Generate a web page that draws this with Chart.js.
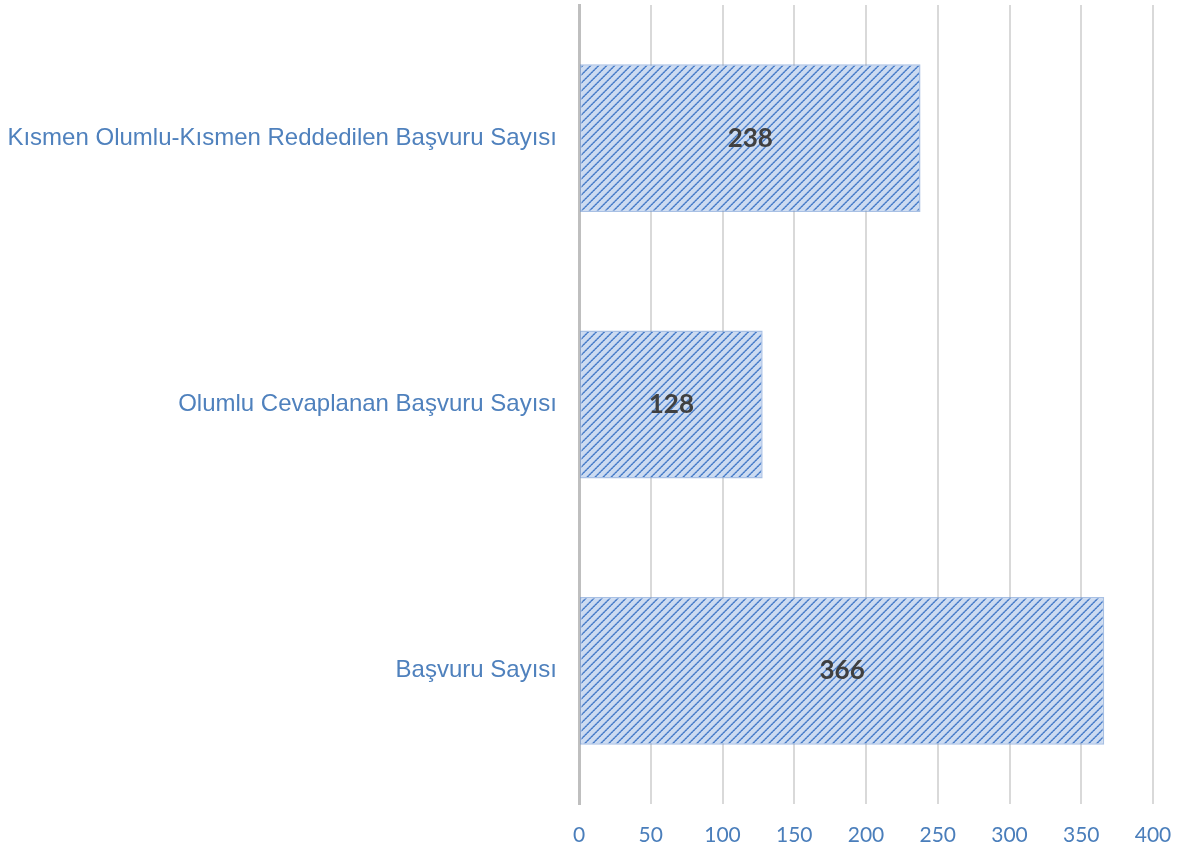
<!DOCTYPE html>
<html>
<head>
<meta charset="utf-8">
<script src="https://cdn.jsdelivr.net/npm/chart.js@4"></script>
<style>
  html, body { margin: 0; padding: 0; background: #fff; }
  #wrap { width: 1179px; height: 847px; }
</style>
</head>
<body>
<div id="wrap"><canvas id="c" width="1179" height="847"></canvas></div>
<script>
// kategoriler ve değerler
const categories = [
    'Kısmen Olumlu-Kısmen Reddedilen Başvuru Sayısı',
    'Olumlu Cevaplanan Başvuru Sayısı',
    'Başvuru Sayısı'
];
const values = [238, 128, 366];
const xTicks = [0, 50, 100, 150, 200, 250, 300, 350, 400];

// çapraz taralı dolgu deseni
function makePattern() {
    const n = 8;
    const pc = document.createElement('canvas');
    pc.width = n; pc.height = n;
    const g = pc.getContext('2d');
    g.fillStyle = '#ccdbf1';
    g.fillRect(0, 0, n, n);
    for (let i = 0; i < n; i++) {
        g.fillStyle = i % 2 ? '#4478c4' : '#5a8bd0';
        g.fillRect(i, n - 1 - i, 1, 1);
        g.fillStyle = i % 2 ? '#7aa1da' : '#5f8ed0';
        g.fillRect(i, (2 * n - i) % n, 1, 1);
        g.fillStyle = '#a6c0e7';
        g.fillRect(i, (2 * n - 2 - i) % n, 1, 1);
    }
    return g.createPattern(pc, 'repeat');
}

// çubuk ortasına değer yazısı
const valueLabels = {
    id: 'valueLabels',
    afterDatasetsDraw(chart) {
        const ctx = chart.ctx;
        const meta = chart.getDatasetMeta(0);
        ctx.save();
        ctx.font = 'bold 26px Lato';
        ctx.fillStyle = '#404040';
        ctx.textAlign = 'center';
        ctx.textBaseline = 'middle';
        meta.data.forEach((bar, i) => {
            const cx = (bar.x + bar.base) / 2;
            ctx.fillText(String(values[i]), cx, bar.y);
        });
        ctx.restore();
    }
};

function noPad(scale) {
    scale.paddingTop = 0;
    scale.paddingBottom = 0;
    scale.paddingLeft = 0;
    scale.paddingRight = 0;
}

new Chart(document.getElementById('c'), {
    type: 'bar',
    data: {
        labels: categories,
        datasets: [{
            data: values,
            backgroundColor: makePattern(),
            borderColor: 'rgba(110,150,210,0.6)',
            borderWidth: 1.5,
            borderSkipped: false,
            categoryPercentage: 1,
            barPercentage: 0.555
        }]
    },
    options: {
        indexAxis: 'y',
        responsive: false,
        animation: false,
        layout: { padding: { top: 5, right: 26, left: 0, bottom: 0 } },
        plugins: {
            legend: { display: false },
            tooltip: { enabled: false }
        },
        scales: {
            x: {
                min: 0,
                max: 400,
                afterBuildTicks(scale) {
                    scale.ticks = xTicks.map(v => ({ value: v }));
                },
                afterFit(scale) { scale.height = 43; noPad(scale); },
                grid: { color: '#d9d9d9', lineWidth: 2, drawTicks: false },
                border: { display: false },
                ticks: {
                    color: '#4a7ebb',
                    font: { family: 'Lato', size: 21 },
                    padding: 19
                }
            },
            y: {
                afterFit(scale) { scale.width = 579; noPad(scale); },
                grid: { display: false, drawTicks: false },
                border: { color: '#bfbfbf', width: 3 },
                ticks: {
                    color: '#4f81bd',
                    font: { family: 'Liberation Sans', size: 24 },
                    padding: 22
                }
            }
        }
    },
    plugins: [valueLabels]
});
</script>
</body>
</html>
